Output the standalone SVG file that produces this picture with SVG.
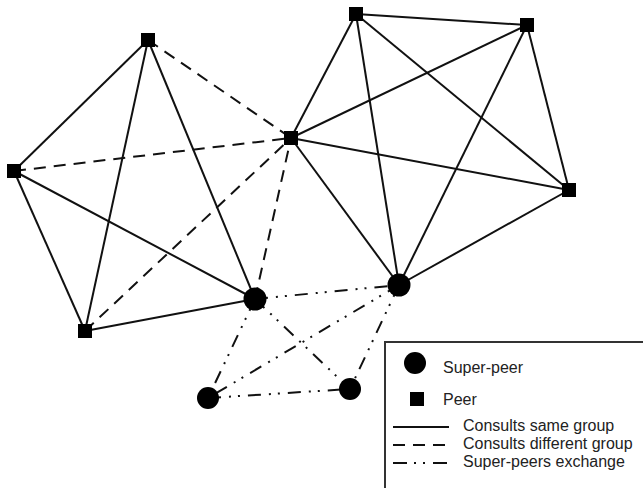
<svg xmlns="http://www.w3.org/2000/svg" width="643" height="488" viewBox="0 0 643 488">
<style>
.e{stroke:#111;stroke-width:2;fill:none}
.s{}
.d{stroke-dasharray:12 8}
.x{stroke-dasharray:13 8 2 7 2 8}
.peer{fill:#000}
.sp{fill:#000}
.t{font-family:"Liberation Sans",Arial,sans-serif;font-size:16px;fill:#222}
</style>
<rect width="643" height="488" fill="#fff"/>
<g id="connectors">
<line class="e s" x1="148" y1="40" x2="14" y2="171"/>
<line class="e s" x1="148" y1="40" x2="85" y2="331"/>
<line class="e s" x1="148" y1="40" x2="255" y2="299"/>
<line class="e d" x1="148" y1="40" x2="291" y2="138"/>
<line class="e d" x1="14" y1="171" x2="291" y2="138"/>
<line class="e s" x1="14" y1="171" x2="255" y2="299"/>
<line class="e s" x1="14" y1="171" x2="85" y2="331"/>
<line class="e s" x1="85" y1="331" x2="255" y2="299"/>
<line class="e d" x1="85" y1="331" x2="291" y2="138"/>
<line class="e d" x1="255" y1="299" x2="291" y2="138"/>
<line class="e s" x1="291" y1="138" x2="356" y2="14"/>
<line class="e s" x1="291" y1="138" x2="527" y2="25"/>
<line class="e s" x1="291" y1="138" x2="569" y2="190"/>
<line class="e s" x1="291" y1="138" x2="399" y2="285"/>
<line class="e s" x1="356" y1="14" x2="527" y2="25"/>
<line class="e s" x1="356" y1="14" x2="569" y2="190"/>
<line class="e s" x1="356" y1="14" x2="399" y2="285"/>
<line class="e s" x1="527" y1="25" x2="569" y2="190"/>
<line class="e s" x1="527" y1="25" x2="399" y2="285"/>
<line class="e s" x1="569" y1="190" x2="399" y2="285"/>
<line class="e x" x1="255" y1="299" x2="399" y2="285"/>
<line class="e x" x1="255" y1="299" x2="208" y2="398"/>
<line class="e x" x1="255" y1="299" x2="350" y2="389"/>
<line class="e x" x1="399" y1="285" x2="208" y2="398"/>
<line class="e x" x1="399" y1="285" x2="350" y2="389"/>
<line class="e x" x1="208" y1="398" x2="350" y2="389"/>
</g>
<g id="peer-a"><rect class="peer" x="141" y="33" width="14" height="14"/></g>
<g id="peer-b"><rect class="peer" x="7" y="164" width="14" height="14"/></g>
<g id="peer-c"><rect class="peer" x="78" y="324" width="14" height="14"/></g>
<g id="peer-e"><rect class="peer" x="284" y="131" width="14" height="14"/></g>
<g id="peer-f"><rect class="peer" x="349" y="7" width="14" height="14"/></g>
<g id="peer-g"><rect class="peer" x="520" y="18" width="14" height="14"/></g>
<g id="peer-h"><rect class="peer" x="562" y="183" width="14" height="14"/></g>
<g id="super-d"><circle class="sp" cx="255" cy="299" r="11.5"/></g>
<g id="super-i"><circle class="sp" cx="399" cy="285" r="11.5"/></g>
<g id="super-j"><circle class="sp" cx="208" cy="398" r="11"/></g>
<g id="super-k"><circle class="sp" cx="350" cy="389" r="11"/></g>
<g id="legend">
<rect x="385" y="342" width="270" height="160" fill="#fff" stroke="#333" stroke-width="2"/>
<circle class="sp" cx="415" cy="363" r="11"/>
<text class="t" x="443" y="373">Super-peer</text>
<rect class="peer" x="410" y="392" width="14" height="14"/>
<text class="t" x="443" y="405">Peer</text>
<line class="e s" x1="393" y1="427" x2="449" y2="427"/>
<text class="t" x="463" y="430.5">Consults same group</text>
<line class="e d" x1="393" y1="445" x2="449" y2="445"/>
<text class="t" x="463" y="448.5">Consults different group</text>
<line class="e" x1="393" y1="463" x2="449" y2="463" stroke-dasharray="14 7 2 7 2 8 14"/>
<text class="t" x="463" y="466.5">Super-peers exchange</text>
</g>
</svg>
